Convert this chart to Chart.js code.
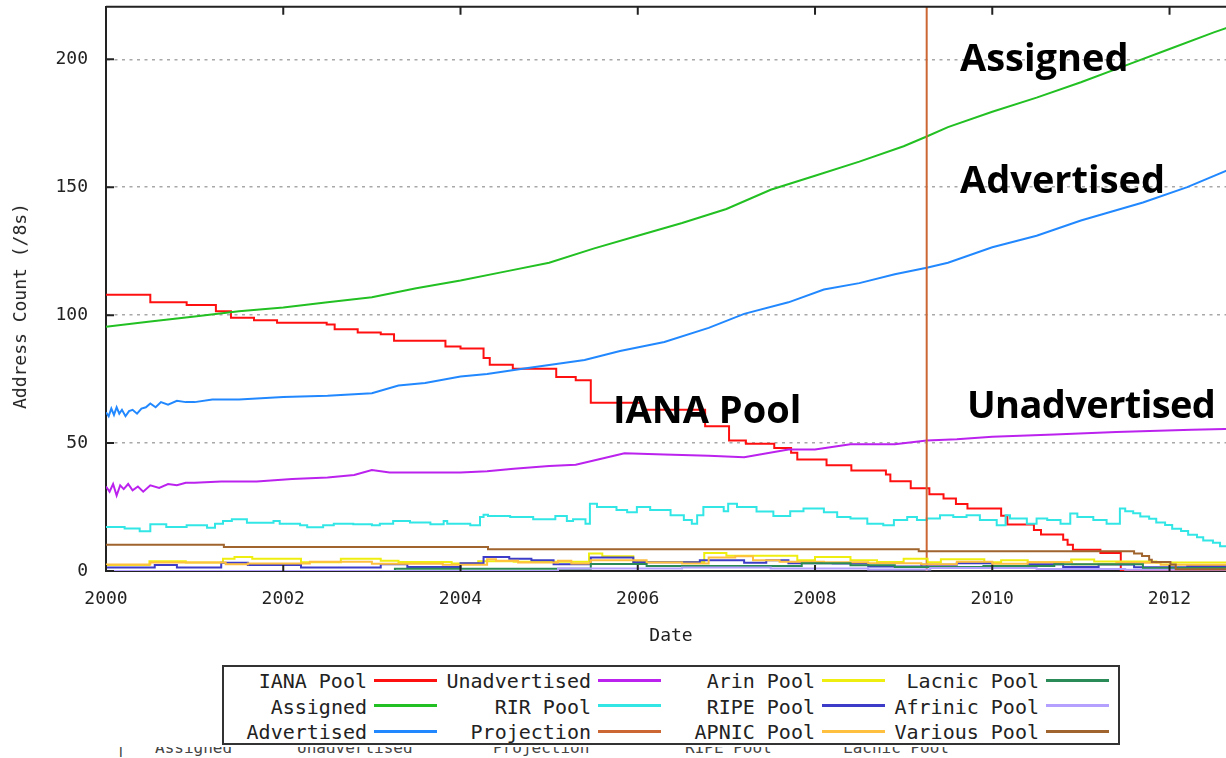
<!DOCTYPE html>
<html>
<head>
<meta charset="utf-8">
<script src="https://cdn.jsdelivr.net/npm/chart.js@4.4.1/dist/chart.umd.min.js"></script>
<style>
  html, body { margin: 0; padding: 0; background: #fff; }
  body { width: 1226px; height: 758px; overflow: hidden; position: relative;
         font-family: 'DejaVu Sans Mono', monospace; color: #222; }
  #plot { position: absolute; left: 0; top: -22px; width: 1240px; height: 684px; }
  .note { position: absolute; font-family: 'Open Sans', sans-serif; font-weight: 700;
          font-size: 38px; line-height: 38px; color: #000; white-space: nowrap; }
  #ytitle { position: absolute; left: 20px; top: 306px; font-size: 18px; line-height: 20px;
            white-space: nowrap; transform: translate(-50%, -50%) rotate(-90deg); color: #222; }
  #legend { position: absolute; left: 222px; top: 665px; width: 894px; height: 76px;
            border: 2px solid #333; background: #fff; }
  #legend .lbl { position: absolute; width: 170px; text-align: right; font-size: 20px;
                 line-height: 22px; white-space: nowrap; }
  #legend .smp { position: absolute; width: 63px; height: 3px; }
  #ghost { position: absolute; left: 0; top: 747px; width: 1226px; height: 11px; overflow: hidden; }
  #ghost span { position: absolute; top: -8px; font-size: 16px; line-height: 18px; color: #444; white-space: nowrap; }
</style>
</head>
<body>
<div id="plot"><canvas id="chart"></canvas></div>

<div id="ytitle">Address Count (/8s)</div>

<div class="note" style="left:960px; top:37px;">Assigned</div>
<div class="note" style="left:960px; top:159px;">Advertised</div>
<div class="note" style="left:613px; top:389px;">IANA Pool</div>
<div class="note" style="left:967px; top:384px; letter-spacing:-0.6px;">Unadvertised</div>

<div id="legend"></div>
<div id="ghost">
  <span style="left:116px;">|</span>
  <span style="left:155px;">Assigned</span>
  <span style="left:297px;">Unadvertised</span>
  <span style="left:493px;">Projection</span>
  <span style="left:685px;">RIPE Pool</span>
  <span style="left:843px;">Lacnic Pool</span>
</div>

<script>
// axis ranges and ticks
const dateRange = [2000, 2012.75];
const countRange = [0, 220.5];
const yearTicks = [2000, 2002, 2004, 2006, 2008, 2010, 2012];
const countTicks = [0, 50, 100, 150, 200];

const seriesNames = ['IANA Pool', 'Assigned', 'Advertised', 'Unadvertised', 'RIR Pool', 'Projection',
  'Arin Pool', 'RIPE Pool', 'APNIC Pool', 'Lacnic Pool', 'Afrinic Pool', 'Various Pool'];
const seriesColors = ['#ff1010', '#22c022', '#2288ff', '#bb22ee', '#33e6e6', '#cc6633',
  '#eeee10', '#3c3cc8', '#ffc040', '#2a8a58', '#b4a0ff', '#a0642e'];

// [date, /8 count]
const ianaPool = [[2000.00,108],[2000.50,105],[2000.91,104],[2001.24,101.5],[2001.41,99],[2001.67,98],
  [2001.93,97],[2002.49,96.3],[2002.58,94.5],[2002.84,93.2],[2003.10,92.5],[2003.25,90],[2003.83,87.7],
  [2004.00,87],[2004.26,83.2],[2004.33,80.6],[2004.59,79],[2005.08,75.8],[2005.30,74.5],[2005.47,65.8],
  [2006.06,63],[2006.76,56.6],[2007.03,51],[2007.22,49.7],[2007.54,48.1],[2007.73,46.2],[2007.80,43.6],
  [2008.13,41.3],[2008.41,39.3],[2008.80,37.7],[2008.85,35.1],[2009.08,32.3],[2009.29,30],[2009.45,28.3],
  [2009.59,26.2],[2009.72,24.4],[2010.10,21.6],[2010.17,18.2],[2010.47,16],[2010.55,14.3],[2010.80,12.2],
  [2010.85,10.3],[2010.91,8.3],[2011.22,7],[2011.45,0],[2012.75,0]];

const assigned = [[2000.0,95.5],[2000.5,97.5],[2001.0,99.5],[2001.5,101.5],[2002.0,103],[2002.5,105],
  [2003.0,107],[2003.5,110.5],[2004.0,113.5],[2004.5,117],[2005.0,120.5],[2005.5,126],[2006.0,131],
  [2006.5,136],[2007.0,141.5],[2007.5,149],[2008.0,154.5],[2008.5,160],[2009.0,166],[2009.26,169.8],
  [2009.5,173.5],[2010.0,179.5],[2010.5,185],[2011.0,191],[2011.5,197.5],[2012.0,204],[2012.5,210.5],
  [2012.75,213.5]];

const advertised = [[2000.00,62],[2000.03,60.5],[2000.06,63.5],[2000.09,61],[2000.12,64],[2000.15,61.5],
  [2000.18,63],[2000.22,60.5],[2000.26,62.5],[2000.30,63],[2000.35,61.5],[2000.40,63.5],[2000.45,64],
  [2000.50,65.5],[2000.56,64],[2000.62,66],[2000.70,65],[2000.80,66.5],[2000.90,66],[2001.0,66],
  [2001.2,67],[2001.5,67],[2002.0,68],[2002.5,68.5],[2003.0,69.5],[2003.3,72.5],[2003.6,73.5],
  [2004.0,76],[2004.3,77],[2004.7,79],[2005.0,80.5],[2005.4,82.5],[2005.8,86],[2006.3,89.5],
  [2006.8,95],[2007.2,100.5],[2007.7,105],[2008.1,110],[2008.5,112.5],[2008.9,116],[2009.26,118.5],
  [2009.5,120.5],[2010.0,126.5],[2010.5,131],[2011.0,137],[2011.7,144],[2012.2,150],[2012.75,158]];

const unadvertised = [[2000.00,33],[2000.04,31],[2000.08,34],[2000.12,29.5],[2000.16,33.5],[2000.20,32],
  [2000.25,34],[2000.30,31.5],[2000.36,33],[2000.42,31],[2000.50,33.5],[2000.60,32.5],[2000.70,34],
  [2000.80,33.5],[2000.90,34.5],[2001.0,34.5],[2001.3,35],[2001.7,35],[2002.1,36],[2002.5,36.5],
  [2002.8,37.5],[2003.0,39.5],[2003.2,38.5],[2003.5,38.5],[2004.0,38.5],[2004.3,39],[2004.6,40],
  [2005.0,41],[2005.3,41.5],[2005.6,44],[2005.85,46],[2006.3,45.5],[2006.8,45],[2007.2,44.5],
  [2007.7,47.5],[2008.0,47.5],[2008.4,49.5],[2008.9,49.5],[2009.26,51],[2009.6,51.5],[2010.0,52.5],
  [2010.7,53.3],[2011.4,54.3],[2012.25,55.2],[2012.75,55.6]];

const rirPool = [[2000.00,17.2],[2000.21,16.6],[2000.38,15.5],[2000.50,18.3],[2000.68,17.2],[2000.91,17.9],
  [2001.14,16.9],[2001.23,18.5],[2001.32,19.5],[2001.42,20.2],[2001.59,18.9],[2001.89,19.5],[2001.96,18.5],
  [2002.19,17.9],[2002.27,17.1],[2002.45,17.9],[2002.57,18.5],[2002.79,18.3],[2003.00,17.9],[2003.09,18.5],
  [2003.24,19.5],[2003.43,19.0],[2003.66,18.3],[2003.81,19.5],[2003.85,18.5],[2004.11,17.9],[2004.22,21.1],
  [2004.26,22.0],[2004.31,21.5],[2004.56,21.1],[2004.82,20.2],[2005.07,21.5],[2005.20,19.5],[2005.27,20.2],
  [2005.41,18.5],[2005.46,26.3],[2005.54,25.0],[2005.76,23.8],[2005.88,23.0],[2005.99,25.0],[2006.14,23.8],
  [2006.37,21.8],[2006.52,19.9],[2006.61,18.5],[2006.67,21.8],[2006.74,25.0],[2006.97,23.4],[2007.02,26.3],
  [2007.12,25.0],[2007.34,23.3],[2007.53,21.5],[2007.72,23.4],[2007.87,24.4],[2008.10,23.0],[2008.25,21.1],
  [2008.40,20.5],[2008.59,18.5],[2008.77,17.9],[2008.89,19.9],[2009.04,21.1],[2009.15,19.9],[2009.26,20.5],
  [2009.41,21.8],[2009.56,21.1],[2009.71,21.8],[2009.86,19.9],[2010.05,17.9],[2010.15,21.8],[2010.20,20.5],
  [2010.39,18.5],[2010.50,20.5],[2010.62,19.9],[2010.77,18.5],[2010.88,22.5],[2010.96,21.1],[2011.14,19.9],
  [2011.29,18.5],[2011.44,24.4],[2011.50,23.4],[2011.59,22.6],[2011.67,21.3],[2011.77,20.4],[2011.85,19.0],
  [2011.95,18.0],[2012.03,16.5],[2012.13,15.6],[2012.21,14.2],[2012.31,13.2],[2012.38,11.9],[2012.49,11.0],
  [2012.57,9.7],[2012.66,8.9],[2012.75,8.2]];

const projection = [[2009.26,0],[2009.26,220.5]];

const arinPool = [[2000.00,2.3],[2000.49,3.8],[2000.90,3.3],[2001.32,4.8],[2001.45,5.5],[2001.65,4.8],
  [2002.20,3.4],[2002.65,4.8],[2003.10,4.0],[2003.30,3.5],[2003.90,2.9],[2004.20,3.8],[2004.60,3.6],
  [2005.45,6.8],[2005.60,5.8],[2005.95,3.5],[2006.75,7.0],[2007.00,6.0],[2007.80,4.2],[2008.00,5.5],
  [2008.40,4.2],[2008.70,3.5],[2009.00,4.8],[2009.27,3.4],[2009.42,4.6],[2009.91,3.4],[2010.10,4.2],
  [2010.40,3.4],[2010.89,4.5],[2011.15,3.7],[2011.85,3.3],[2012.75,3.3]];

const ripePool = [[2000.00,1.4],[2000.55,2.3],[2000.80,1.4],[2001.30,3.2],[2001.60,2.3],[2002.20,1.4],
  [2003.10,2.6],[2003.40,1.6],[2004.00,3.0],[2004.26,5.5],[2004.55,4.8],[2004.80,4.2],[2005.05,2.6],
  [2005.47,5.3],[2005.95,3.4],[2006.70,4.2],[2007.20,3.2],[2007.45,4.2],[2007.70,3.0],[2008.20,2.9],
  [2008.60,1.8],[2009.20,2.4],[2009.60,3.0],[2010.00,1.8],[2010.40,2.6],[2010.80,1.6],[2011.20,2.5],
  [2011.60,1.5],[2012.20,2.0],[2012.75,2.0]];

const apnicPool = [[2000.00,2.5],[2000.50,3.3],[2001.35,2.6],[2001.60,2.9],[2002.30,3.6],[2003.00,2.8],
  [2003.80,2.4],[2004.30,4.6],[2004.40,4.0],[2004.65,3.3],[2005.10,4.0],[2005.25,2.9],[2005.47,4.2],
  [2006.10,3.3],[2006.50,2.9],[2006.80,5.3],[2007.10,5.8],[2007.30,4.2],[2007.60,3.6],[2008.10,3.4],
  [2008.60,3.0],[2009.20,2.6],[2009.60,3.6],[2010.00,2.8],[2010.40,3.4],[2010.90,2.6],[2011.40,3.2],
  [2011.90,2.4],[2012.75,2.4]];

const lacnicPool = [[2000.00,0],[2003.26,0.9],[2005.47,2.7],[2006.10,2.0],[2007.85,3.0],[2008.40,2.2],
  [2008.90,1.6],[2009.90,2.0],[2010.70,2.6],[2011.70,1.2],[2012.75,1.2]];

const afrinicPool = [[2000.00,0],[2005.10,1.0],[2006.50,1.4],[2007.50,1.0],[2008.60,0.6],[2009.30,1.2],
  [2010.50,0.8],[2011.50,0.5],[2012.75,0.5]];

const variousPool = [[2000.00,10.3],[2001.33,9.4],[2004.31,8.5],[2009.17,7.7],[2011.60,6.8],[2011.69,5.9],
  [2011.77,4.4],[2011.80,3.5],[2012.01,2.5],[2012.07,0.7],[2012.75,0.7]];

const seriesData = [ianaPool, assigned, advertised, unadvertised, rirPool, projection,
  arinPool, ripePool, apnicPool, lacnicPool, afrinicPool, variousPool];
const steppedSeries = ['IANA Pool', 'RIR Pool', 'Arin Pool', 'RIPE Pool', 'APNIC Pool',
  'Lacnic Pool', 'Afrinic Pool', 'Various Pool'];

Chart.defaults.font.family = "'DejaVu Sans Mono', monospace";
Chart.defaults.color = '#222';

// gnuplot style frame: top border and inward ticks
const framePlugin = {
  id: 'frame',
  afterDatasetsDraw(chart) {
    const { ctx, chartArea: a, scales: { x, y } } = chart;
    ctx.save();
    ctx.strokeStyle = '#222';
    ctx.lineWidth = 2;
    ctx.beginPath();
    ctx.moveTo(a.left, a.top);
    ctx.lineTo(a.right, a.top);
    countTicks.forEach(v => {
      const py = y.getPixelForValue(v);
      ctx.moveTo(a.left, py);
      ctx.lineTo(a.left + 8, py);
    });
    yearTicks.forEach(v => {
      const px = x.getPixelForValue(v);
      ctx.moveTo(px, a.top);
      ctx.lineTo(px, a.top + 8);
      ctx.moveTo(px, a.bottom);
      ctx.lineTo(px, a.bottom - 6);
    });
    ctx.stroke();
    ctx.restore();
  }
};

const datasets = seriesNames.map((name, i) => ({
  label: name,
  data: seriesData[i].map(([d, v]) => ({ x: d, y: v })),
  borderColor: seriesColors[i],
  backgroundColor: seriesColors[i],
  borderWidth: 2,
  stepped: steppedSeries.includes(name),
  pointRadius: 0,
  fill: false,
  order: seriesNames.length - i
}));

new Chart(document.getElementById('chart'), {
  type: 'line',
  data: { datasets },
  options: {
    responsive: true,
    maintainAspectRatio: false,
    animation: false,
    layout: { padding: { left: 0, right: 4, top: 6, bottom: 0 } },
    plugins: { legend: { display: false }, tooltip: { enabled: false } },
    scales: {
      x: {
        type: 'linear',
        min: dateRange[0],
        max: dateRange[1],
        afterBuildTicks: s => { s.ticks = yearTicks.map(v => ({ value: v })); },
        afterFit: s => { s.height = 91; },
        ticks: { font: { size: 18 }, padding: 18, maxRotation: 0, callback: v => String(v) },
        grid: { drawOnChartArea: false, drawTicks: false },
        border: { display: true, color: '#222', width: 2 },
        title: { display: true, text: 'Date', font: { size: 18 }, padding: { top: 0, bottom: 15 } }
      },
      y: {
        min: countRange[0],
        max: countRange[1],
        afterBuildTicks: s => { s.ticks = countTicks.map(v => ({ value: v })); },
        afterFit: s => { s.width = 106; },
        ticks: { font: { size: 18 }, padding: 18, callback: v => String(v) },
        grid: { color: '#a8a8a8', lineWidth: 1.5, drawTicks: false },
        border: { display: true, color: '#222', width: 2, dash: [3, 4.5] }
      }
    }
  },
  plugins: [framePlugin]
});

// legend, gnuplot style: 4 columns x 3 rows, label then sample
const legend = document.getElementById('legend');
seriesNames.forEach((name, i) => {
  const c = Math.floor(i / 3), r = i % 3;
  const labelRight = 143 + 224 * c;
  const rowMid = 13 + 25.5 * r;
  const lbl = document.createElement('div');
  lbl.className = 'lbl';
  lbl.textContent = name;
  lbl.style.left = (labelRight - 170) + 'px';
  lbl.style.top = (rowMid - 10) + 'px';
  legend.appendChild(lbl);
  const smp = document.createElement('div');
  smp.className = 'smp';
  smp.style.left = (labelRight + 7) + 'px';
  smp.style.top = (rowMid - 1.5) + 'px';
  smp.style.background = seriesColors[i];
  legend.appendChild(smp);
});
</script>
</body>
</html>
